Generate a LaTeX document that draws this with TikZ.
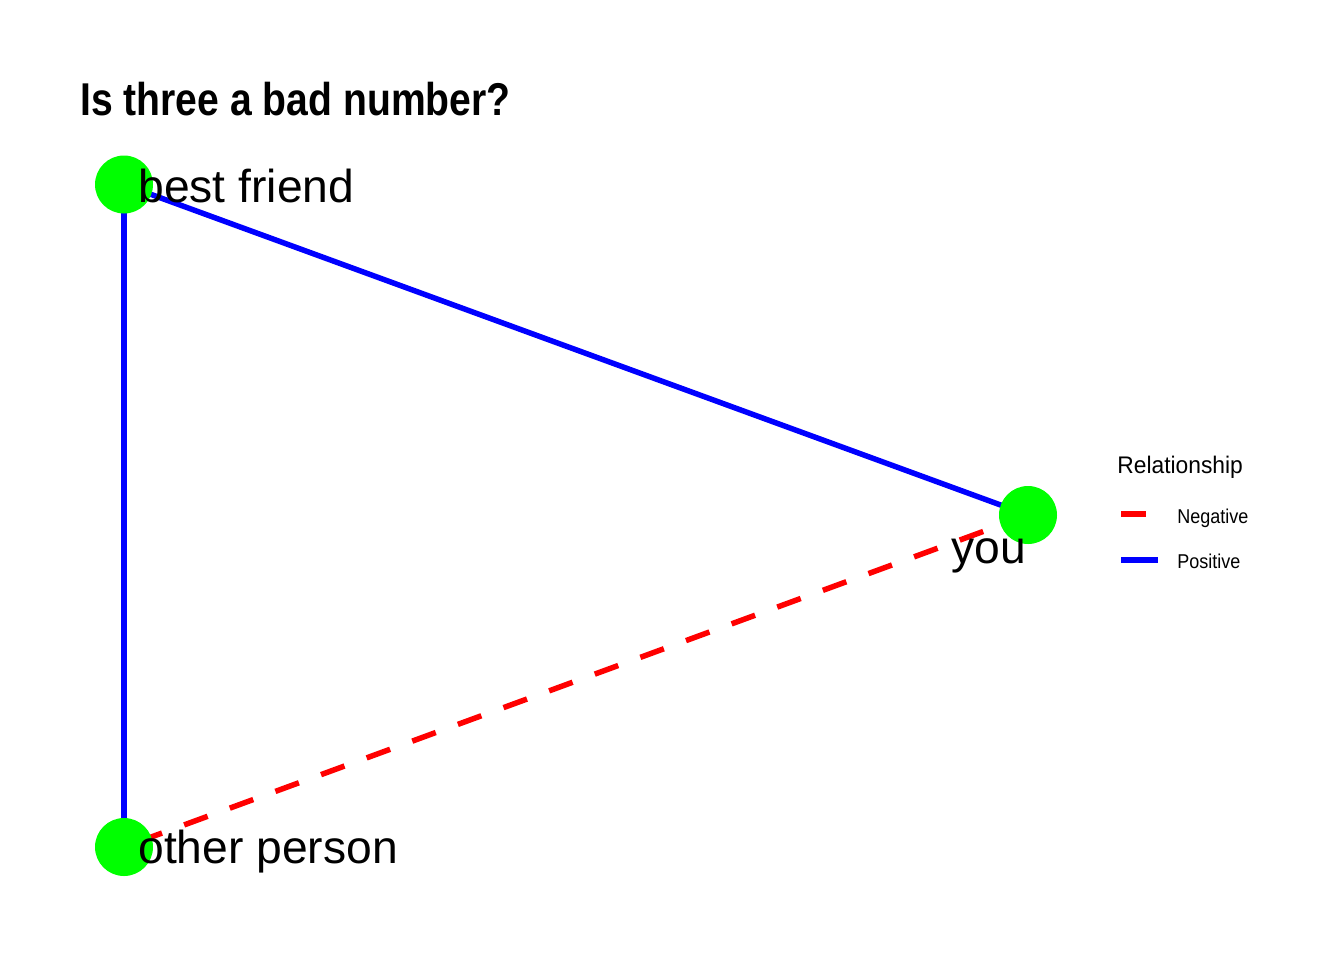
\documentclass[tikz,border=0pt]{standalone}
\usepackage{fontspec}
\setmainfont{Liberation Sans}
\pgfdeclarelayer{edges}
\pgfsetlayers{edges,main}
\definecolor{nodegreen}{RGB}{0,255,0}
\definecolor{posblue}{RGB}{0,0,255}
\definecolor{negred}{RGB}{255,0,0}
\begin{document}
\begin{tikzpicture}[x=0.5pt,y=-0.5pt,
  vertex/.style={circle,fill=nodegreen,draw=none,inner sep=0pt,minimum size=29pt},
  vlabel/.style={anchor=base west,inner sep=0pt,font=\fontsize{23.1pt}{28pt}\selectfont},
  posedge/.style={draw=posblue,line width=2.75pt},
  negedge/.style={draw=negred,line width=2.75pt,dash pattern=on 12.5pt off 11.8pt,dash phase=16.55pt},
  poskey/.style={draw=posblue,line width=2.9pt},
  negkey/.style={draw=negred,line width=2.9pt,dash pattern=on 12.5pt off 11.8pt},
  legtitle/.style={anchor=base west,inner sep=0pt,xscale=0.95,font=\fontsize{12pt}{14pt}\selectfont},
  legtext/.style={anchor=base west,inner sep=0pt,xscale=0.9,font=\fontsize{10pt}{12pt}\selectfont},
  plottitle/.style={anchor=base west,inner sep=0pt,xscale=0.85,font=\fontsize{23pt}{28pt}\selectfont\bfseries}
]
\useasboundingbox (0,0) rectangle (1344,960);

% vertices
\node[vertex] (bf) at (124,184.5) {};
\node[vertex] (you) at (1028,515) {};
\node[vertex] (op) at (124,847) {};

% edges
\begin{pgfonlayer}{edges}
\draw[posedge] (bf.center) -- (you.center);
\draw[posedge] (bf.center) -- (op.center);
\draw[negedge] (op.center) -- (you.center);
\end{pgfonlayer}

% vertex labels
\node[vlabel] (bflab) at (138,202) {best friend};
\node[vlabel] (youlab) at (951,563) {you};
\node[vlabel] (oplab) at (138,863) {other person};

% title
\node[plottitle] (title) at (80,115) {Is three a bad number?};

% legend
\node[legtitle] (legt) at (1117,473) {Relationship};
\coordinate (nk1) at (1121,514);
\coordinate (nk2) at (1158,514);
\coordinate (pk1) at (1121,560);
\coordinate (pk2) at (1158,560);
\draw[negkey] (nk1) -- (nk2);
\draw[poskey] (pk1) -- (pk2);
\node[legtext] (negt) at (1177,523) {Negative};
\node[legtext] (post) at (1177,568) {Positive};
\end{tikzpicture}
\end{document}
